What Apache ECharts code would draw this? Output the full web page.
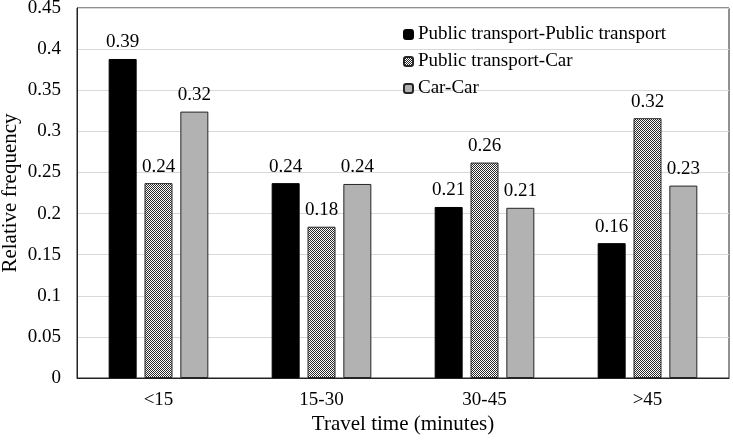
<!DOCTYPE html>
<html>
<head>
<meta charset="utf-8">
<script src="https://cdn.jsdelivr.net/npm/echarts@6/dist/echarts.min.js"></script>
<style>html,body{margin:0;padding:0;background:#fff;}#c{width:733px;height:441px;}</style>
</head>
<body>
<div id="c"></div>
<script>
const categories = ['<15', '15-30', '30-45', '>45'];
const seriesNames = ['Public transport-Public transport', 'Public transport-Car', 'Car-Car'];
const ptPt = [0.388, 0.237, 0.208, 0.164];
const ptCar = [0.237, 0.184, 0.262, 0.316];
const carCar = [0.324, 0.236, 0.207, 0.234];
const yTicks = [0, 0.05, 0.1, 0.15, 0.2, 0.25, 0.3, 0.35, 0.4, 0.45];

const pc = document.createElement('canvas');
pc.width = 2; pc.height = 2;
const pctx = pc.getContext('2d');
pctx.fillStyle = '#ffffff'; pctx.fillRect(0, 0, 2, 2);
pctx.fillStyle = '#2a2a2a';
pctx.fillRect(0, 0, 1, 1); pctx.fillRect(1, 1, 1, 1);

const font = 'Liberation Serif';
const chart = echarts.init(document.getElementById('c'));
const lbl = { show: true, position: 'top', distance: 7, fontFamily: font, fontSize: 19, color: '#000', formatter: p => p.value.toFixed(2) };
const fills = ['#000000', { image: pc, repeat: 'repeat' }, '#b2b2b2'];
const datas = [ptPt, ptCar, carCar];
chart.setOption({
  animation: false,
  grid: { left: 77, right: 4, top: 8, bottom: 63, containLabel: false, outerBoundsMode: 'none', show: true, borderColor: '#222', borderWidth: 1 },
  legend: {
    orient: 'vertical', left: 398, top: 20, itemWidth: 9, itemHeight: 9, itemGap: 8,
    textStyle: { fontFamily: font, fontSize: 19, color: '#000' },
    data: seriesNames
  },
  xAxis: {
    type: 'category', data: categories,
    name: 'Travel time (minutes)', nameLocation: 'middle', nameGap: 36, nameMoveOverlap: false,
    nameTextStyle: { fontFamily: font, fontSize: 21, color: '#000' },
    axisLine: { lineStyle: { color: '#222' } }, axisTick: { show: false },
    axisLabel: { fontFamily: font, fontSize: 19, color: '#000', margin: 13 }
  },
  yAxis: {
    type: 'value', min: 0, max: 0.45, interval: 0.05,
    name: 'Relative frequency', nameLocation: 'middle', nameGap: 56, nameMoveOverlap: false,
    nameTextStyle: { fontFamily: font, fontSize: 21, color: '#000' },
    axisLine: { show: true, lineStyle: { color: '#222' } }, axisTick: { show: false },
    axisLabel: { fontFamily: font, fontSize: 19, color: '#000', margin: 16,
      formatter: v => { const t = yTicks.find(x => Math.abs(x - v) < 1e-9); return String(t !== undefined ? t : v); } },
    splitLine: { lineStyle: { color: '#d9d9d9' } }
  },
  series: seriesNames.map((n, i) => ({
    name: n, type: 'bar', data: datas[i], barWidth: 28, barGap: '28%',
    itemStyle: { color: fills[i], borderColor: i === 0 ? '#000' : '#262626', borderWidth: 1 },
    label: lbl
  }))
});
</script>
</body>
</html>
